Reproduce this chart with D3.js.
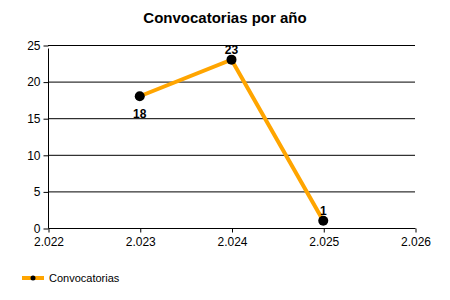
<!DOCTYPE html>
<html>
<head>
<meta charset="utf-8">
<script src="https://cdn.jsdelivr.net/npm/d3@7"></script>
<style>
  body { margin: 0; background: #fff; }
  text { font-family: "Liberation Sans", Arial, sans-serif; }
</style>
</head>
<body>
<div id="chart"></div>
<script>
/* DATA */
const years = [2023, 2024, 2025];
const counts = [18, 23, 1];
const labelPos = ["below", "above", "above"];
const xTicks = [2022, 2023, 2024, 2025, 2026];
const yTicks = [0, 5, 10, 15, 20, 25];
const seriesName = "Convocatorias";
const title = "Convocatorias por año";

/* CONSTANTS */
const width = 450, height = 300;
const margin = { top: 45, right: 35, bottom: 72, left: 48 };
const lineColor = "#FFA500";

const fmt = d3.formatLocale({ decimal: ",", thousands: ".", grouping: [3], currency: ["", ""] }).format(",");

const svg = d3.select("#chart").append("svg")
  .attr("width", width)
  .attr("height", height);

const xScale = d3.scaleLinear()
  .domain([2022, 2026])
  .range([margin.left, width - margin.right]);

const yScale = d3.scaleLinear()
  .domain([0, 25])
  .range([height - margin.bottom, margin.top]);

// title
svg.append("text")
  .attr("x", width / 2)
  .attr("y", 23)
  .attr("text-anchor", "middle")
  .attr("font-size", 15)
  .attr("font-weight", "bold")
  .text(title);

// grid lines
svg.append("g")
  .selectAll("line")
  .data(yTicks.filter(d => d > 0))
  .join("line")
  .attr("x1", margin.left)
  .attr("x2", width - margin.right)
  .attr("y1", d => yScale(d) + 0.5)
  .attr("y2", d => yScale(d) + 0.5)
  .attr("stroke", "#000");

// y axis
const yAxis = svg.append("g")
  .attr("transform", `translate(${margin.left + 0.5},0.5)`)
  .call(d3.axisLeft(yScale).tickValues(yTicks).tickSize(5).tickPadding(3))
  .call(g => g.select(".domain").attr("d", `M0,${yScale(25) + 3}V${yScale(0)}`));
yAxis.selectAll("text").attr("font-size", 12).attr("fill", "#000").style("font-family", "Liberation Sans, Arial, sans-serif");

// x axis
const xAxis = svg.append("g")
  .attr("transform", `translate(0.5,${yScale(0) + 0.5})`)
  .call(d3.axisBottom(xScale).tickValues(xTicks).tickFormat(d => fmt(d)).tickSize(4).tickPadding(5))
  .call(g => g.select(".domain").attr("d", `M${margin.left},0H${width - margin.right}`));
xAxis.selectAll("text").attr("font-size", 12).attr("fill", "#000").style("font-family", "Liberation Sans, Arial, sans-serif");

// line
const points = years.map((y, i) => ({ year: y, count: counts[i], pos: labelPos[i] }));
const line = d3.line()
  .x(d => xScale(d.year))
  .y(d => yScale(d.count));

svg.append("path")
  .datum(points)
  .attr("d", line)
  .attr("fill", "none")
  .attr("stroke", lineColor)
  .attr("stroke-width", 4);

svg.selectAll(".dot")
  .data(points)
  .join("circle")
  .attr("class", "dot")
  .attr("cx", d => xScale(d.year))
  .attr("cy", d => yScale(d.count))
  .attr("r", 5)
  .attr("fill", "#000");

svg.selectAll(".val")
  .data(points)
  .join("text")
  .attr("class", "val")
  .attr("x", d => xScale(d.year))
  .attr("y", d => yScale(d.count) + (d.pos === "above" ? -6 : 22))
  .attr("text-anchor", "middle")
  .attr("font-size", 12)
  .attr("font-weight", "bold")
  .text(d => d.count);

// legend
const legend = svg.append("g").attr("transform", "translate(22,278)");
legend.append("line")
  .attr("x1", 0).attr("x2", 22)
  .attr("stroke", lineColor)
  .attr("stroke-width", 4);
legend.append("circle")
  .attr("cx", 11).attr("r", 2.5)
  .attr("fill", "#000");
legend.append("text")
  .attr("x", 27)
  .attr("y", 4)
  .attr("font-size", 11)
  .text(seriesName);
</script>
</body>
</html>
